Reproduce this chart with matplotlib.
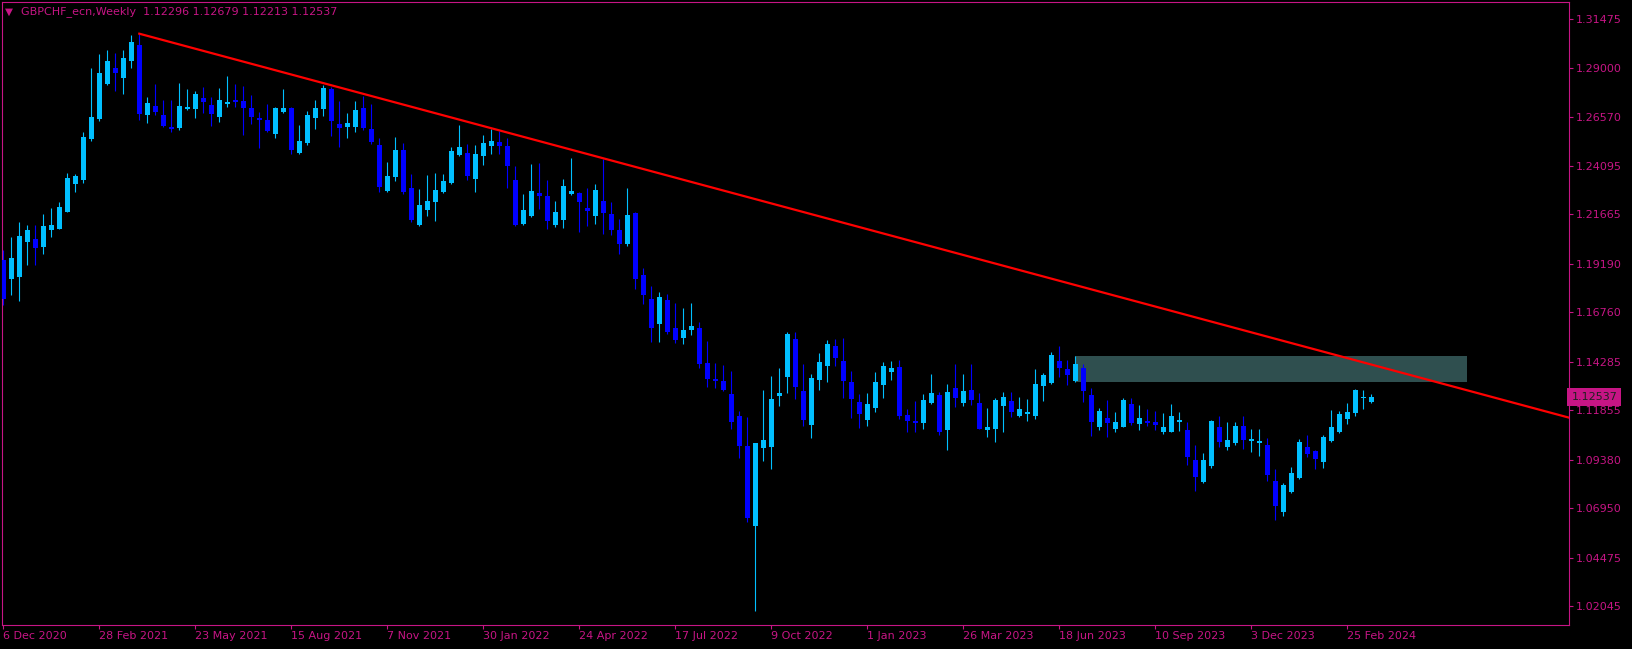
import matplotlib.pyplot as plt
from matplotlib.patches import Rectangle

#颜色设置
bg_color='black'
fg_color='#C71585'
up_color='#00BFFF'
down_color='#0000FF'

#每周K线的开盘价、最高价、最低价、收盘价（从2020年12月6日开始）
opens=[1.1939,1.1845,1.1855,1.2031,1.2044,1.2006,1.2091,1.2096,1.2181,1.2321,
       1.2340,1.2545,1.2645,1.2820,1.2900,1.2850,1.2935,1.3016,1.2665,1.2710,
       1.2665,1.2605,1.2600,1.2695,1.2695,1.2750,1.2715,1.2655,1.2720,1.2740,
       1.2735,1.2700,1.2650,1.2640,1.2570,1.2680,1.2700,1.2475,1.2525,1.2650,
       1.2695,1.2795,1.2620,1.2605,1.2605,1.2700,1.2595,1.2515,1.2285,1.2355,
       1.2490,1.2298,1.2114,1.2189,1.2229,1.2279,1.2324,1.2465,1.2475,1.2345,
       1.2460,1.2510,1.2530,1.2510,1.2339,1.2119,1.2159,1.2274,1.2259,1.2114,
       1.2139,1.2269,1.2274,1.2199,1.2159,1.2234,1.2169,1.2089,1.2021,1.2173,
       1.1862,1.1744,1.1618,1.1739,1.1598,1.1550,1.1590,1.1598,1.1423,1.1343,
       1.1333,1.1268,1.1158,1.1007,1.0607,1.0999,1.1004,1.1259,1.1354,1.1543,
       1.1283,1.1114,1.1338,1.1408,1.1508,1.1433,1.1328,1.1228,1.1139,1.1199,
       1.1314,1.1379,1.1403,1.1163,1.1133,1.1124,1.1224,1.1263,1.1089,1.1298,
       1.1224,1.1288,1.1223,1.1089,1.1093,1.1208,1.1233,1.1158,1.1169,1.1158,
       1.1308,1.1323,1.1433,1.1393,1.1333,1.1398,1.1263,1.1103,1.1148,1.1093,
       1.1103,1.1218,1.1118,1.1133,1.1128,1.1078,1.1078,1.1128,1.1088,1.0937,
       1.0827,1.0907,1.1103,1.1004,1.1022,1.1108,1.1034,1.1024,1.1012,1.0832,
       1.0677,1.0777,1.0847,1.1002,1.0982,1.0927,1.1033,1.1078,1.1143,1.1173,
       1.1248,1.12296]
highs=[1.1989,1.2053,1.2129,1.2114,1.2114,1.2169,1.2199,1.2229,1.2375,1.2370,
       1.2580,1.2900,1.2970,1.2990,1.2975,1.2990,1.3066,1.3071,1.2754,1.2820,
       1.2740,1.2740,1.2825,1.2795,1.2785,1.2805,1.2755,1.2800,1.2860,1.2820,
       1.2810,1.2765,1.2680,1.2720,1.2705,1.2795,1.2705,1.2615,1.2685,1.2740,
       1.2815,1.2805,1.2735,1.2675,1.2735,1.2760,1.2720,1.2550,1.2430,1.2555,
       1.2525,1.2370,1.2295,1.2365,1.2375,1.2370,1.2505,1.2615,1.2520,1.2515,
       1.2565,1.2595,1.2585,1.2550,1.2410,1.2269,1.2420,1.2425,1.2339,1.2234,
       1.2344,1.2450,1.2279,1.2299,1.2319,1.2445,1.2229,1.2144,1.2299,1.2179,
       1.1899,1.1809,1.1779,1.1769,1.1724,1.1699,1.1724,1.1628,1.1533,1.1423,
       1.1413,1.1383,1.1183,1.1153,1.1023,1.1288,1.1358,1.1398,1.1578,1.1578,
       1.1418,1.1368,1.1473,1.1538,1.1543,1.1548,1.1383,1.1268,1.1273,1.1378,
       1.1428,1.1433,1.1438,1.1194,1.1234,1.1268,1.1368,1.1279,1.1318,1.1418,
       1.1368,1.1418,1.1273,1.1198,1.1248,1.1278,1.1278,1.1253,1.1243,1.1393,
       1.1373,1.1478,1.1508,1.1438,1.1458,1.1418,1.1298,1.1198,1.1238,1.1178,
       1.1248,1.1248,1.1213,1.1193,1.1183,1.1173,1.1218,1.1178,1.1128,1.1012,
       1.0972,1.1138,1.1158,1.1128,1.1128,1.1158,1.1093,1.1093,1.1048,1.0892,
       1.0822,1.0902,1.1043,1.1063,1.0985,1.1063,1.1188,1.1183,1.1223,1.1293,
       1.1288,1.12679]
lows=[1.1714,1.1765,1.1735,1.1914,1.1914,1.1971,1.2056,1.2094,1.2179,1.2280,
      1.2326,1.2536,1.2636,1.2815,1.2787,1.2770,1.2900,1.2640,1.2626,1.2665,
      1.2603,1.2582,1.2590,1.2690,1.2650,1.2675,1.2610,1.2630,1.2705,1.2705,
      1.2565,1.2620,1.2500,1.2580,1.2550,1.2675,1.2470,1.2470,1.2515,1.2595,
      1.2660,1.2560,1.2505,1.2550,1.2580,1.2590,1.2520,1.2280,1.2280,1.2335,
      1.2270,1.2129,1.2110,1.2159,1.2134,1.2275,1.2319,1.2460,1.2340,1.2279,
      1.2415,1.2470,1.2470,1.2300,1.2110,1.2112,1.2155,1.2194,1.2094,1.2104,
      1.2099,1.2264,1.2079,1.2109,1.2119,1.2069,1.2064,1.1970,1.2011,1.1794,
      1.1720,1.1530,1.1530,1.1570,1.1525,1.1520,1.1565,1.1400,1.1303,1.1298,
      1.1283,1.1093,1.0947,1.0627,1.0181,1.0934,1.0894,1.1209,1.1274,1.1244,
      1.1109,1.1049,1.1289,1.1328,1.1408,1.1249,1.1148,1.1099,1.1109,1.1179,
      1.1249,1.1339,1.1144,1.1079,1.1076,1.1094,1.1218,1.1064,1.0989,1.1203,
      1.1208,1.1213,1.1090,1.1053,1.1028,1.1078,1.1153,1.1153,1.1133,1.1143,
      1.1233,1.1318,1.1353,1.1313,1.1328,1.1228,1.1058,1.1088,1.1053,1.1078,
      1.1100,1.1113,1.1088,1.1108,1.1088,1.1068,1.1075,1.1083,1.0912,1.0782,
      1.0824,1.0897,1.1002,1.0989,1.1012,1.0992,1.0977,1.0957,1.0832,1.0637,
      1.0657,1.0774,1.0842,1.0952,1.0892,1.0897,1.1028,1.1073,1.1118,1.1158,
      1.1193,1.12213]
closes=[1.1744,1.1949,1.2059,1.2089,1.2001,1.2109,1.2114,1.2204,1.2350,1.2360,
        1.2555,1.2655,1.2875,1.2935,1.2875,1.2950,1.3031,1.2670,1.2725,1.2680,
        1.2610,1.2595,1.2710,1.2705,1.2770,1.2730,1.2670,1.2740,1.2730,1.2730,
        1.2700,1.2655,1.2640,1.2585,1.2700,1.2700,1.2490,1.2535,1.2665,1.2700,
        1.2800,1.2635,1.2600,1.2625,1.2690,1.2600,1.2530,1.2305,1.2360,1.2490,
        1.2281,1.2138,1.2214,1.2234,1.2289,1.2334,1.2485,1.2505,1.2360,1.2470,
        1.2525,1.2535,1.2510,1.2410,1.2114,1.2189,1.2284,1.2259,1.2134,1.2179,
        1.2309,1.2284,1.2229,1.2184,1.2289,1.2174,1.2089,1.2021,1.2164,1.1844,
        1.1764,1.1600,1.1754,1.1580,1.1538,1.1588,1.1610,1.1420,1.1343,1.1333,
        1.1288,1.1128,1.1007,1.0647,1.1023,1.1037,1.1243,1.1273,1.1568,1.1304,
        1.1138,1.1348,1.1428,1.1518,1.1448,1.1334,1.1244,1.1168,1.1218,1.1328,
        1.1408,1.1398,1.1159,1.1134,1.1124,1.1238,1.1273,1.1079,1.1278,1.1249,
        1.1283,1.1239,1.1093,1.1103,1.1238,1.1253,1.1179,1.1193,1.1178,1.1318,
        1.1363,1.1463,1.1398,1.1363,1.1418,1.1283,1.1128,1.1183,1.1123,1.1128,
        1.1238,1.1123,1.1148,1.1123,1.1113,1.1103,1.1158,1.1138,1.0954,1.0852,
        1.0937,1.1133,1.1029,1.1037,1.1108,1.1039,1.1043,1.1032,1.0862,1.0709,
        1.0812,1.0872,1.1027,1.0967,1.0942,1.1053,1.1103,1.1168,1.1178,1.1288,
        1.1253,1.12537]

#横轴日期标签（每12周一个）
date_labels=['6 Dec 2020','28 Feb 2021','23 May 2021','15 Aug 2021','7 Nov 2021',
             '30 Jan 2022','24 Apr 2022','17 Jul 2022','9 Oct 2022','1 Jan 2023',
             '26 Mar 2023','18 Jun 2023','10 Sep 2023','3 Dec 2023','25 Feb 2024']
date_index=[0,12,24,36,48,60,72,84,96,108,120,132,144,156,168]

#纵轴价格刻度
price_ticks=[1.31475,1.29000,1.26570,1.24095,1.21665,1.19190,1.16760,
             1.14285,1.11855,1.09380,1.06950,1.04475,1.02045]

#趋势线的两个点，和阻力区域
trend_x=[17,171]
trend_y=[1.3072,1.1415]
zone_x=[134,183]
zone_y=[1.13291,1.14579]

title_text='GBPCHF_ecn,Weekly  1.12296 1.12679 1.12213 1.12537'
last_price=1.12537

#画图
fig=plt.figure(figsize=(16.33,6.49),dpi=100,facecolor=bg_color)
ax=fig.add_axes([2/1633,1-625/649,1567/1633,623/649])
ax.set_facecolor(bg_color)

#阻力区域放在最下面
ax.add_patch(Rectangle((zone_x[0],zone_y[0]),zone_x[1]-zone_x[0],zone_y[1]-zone_y[0],
                       facecolor='#2F4F4F',edgecolor='none',zorder=1))

#K线
x=list(range(len(opens)))
colors=[up_color if c>=o else down_color for o,c in zip(opens,closes)]
ax.vlines(x,lows,highs,colors=colors,linewidth=0.8,zorder=2)
bottoms=[min(o,c) for o,c in zip(opens,closes)]
heights=[max(abs(c-o),0.0005) for o,c in zip(opens,closes)]
ax.bar(x,heights,bottom=bottoms,width=0.62,color=colors,linewidth=0,zorder=3)

#趋势线一直延伸到右边
x_end=196
slope=(trend_y[1]-trend_y[0])/(trend_x[1]-trend_x[0])
ax.plot([trend_x[0],x_end],[trend_y[0],trend_y[0]+slope*(x_end-trend_x[0])],
        color='red',linewidth=1.6,zorder=4)

ax.set_xlim(-0.1625,195.71)
ax.set_ylim(1.01107,1.32307)

#坐标轴样式
for s in ax.spines.values():
    s.set_color(fg_color)
    s.set_linewidth(0.8)
ax.yaxis.tick_right()
ax.set_yticks(price_ticks)
ax.set_yticklabels(['%.5f' % p for p in price_ticks])
ax.tick_params(axis='y',colors=fg_color,length=3,width=0.8,pad=2,labelsize=8)
ax.set_xticks(date_index)
ax.set_xticklabels(date_labels,ha='left')
ax.tick_params(axis='x',colors=fg_color,length=3,width=0.8,pad=1,labelsize=8)

#当前价格标签
ax.text(1.0015,last_price,'%.5f' % last_price,transform=ax.get_yaxis_transform(),
        ha='left',va='center',fontsize=8,color='#202020',
        bbox=dict(boxstyle='square,pad=0.35',facecolor=fg_color,edgecolor='none'))

#左上角标题
fig.text(5/1633,1-12/649,'▼',fontsize=7.5,color=fg_color,va='center')
fig.text(21/1633,1-12/649,title_text,fontsize=8,color=fg_color,va='center')

fig.savefig('out.png',dpi=100,facecolor=bg_color)
